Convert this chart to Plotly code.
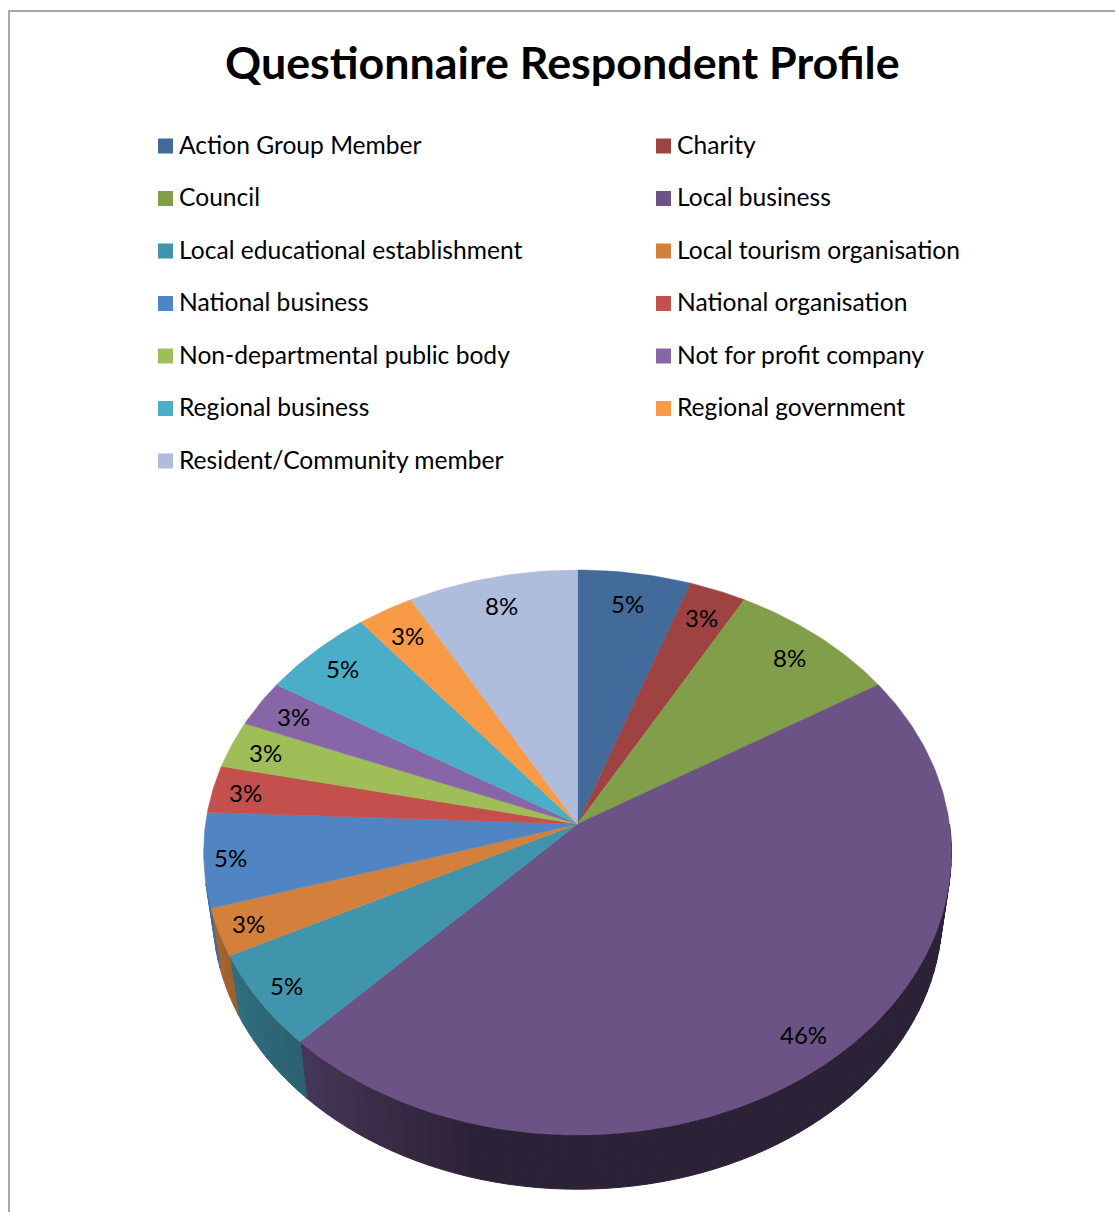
import numpy as np
import plotly.graph_objects as go

# Respondent counts per category (clockwise from twelve o'clock)
categories = [
    "Action Group Member", "Charity", "Council", "Local business",
    "Local educational establishment", "Local tourism organisation",
    "National business", "National organisation", "Non-departmental public body",
    "Not for profit company", "Regional business", "Regional government",
    "Resident/Community member",
]
counts = [2, 1, 3, 17, 2, 1, 2, 1, 1, 1, 2, 1, 3]
colors = [
    "#426A9B", "#9E4341", "#819E4A", "#6C5386", "#4094AB", "#D2803C", "#5184C2",
    "#C4504D", "#9FBE58", "#8766A8", "#4BAEC9", "#F99A47", "#AEBDDB",
]
label_radii = [0.87, 0.875, 0.875, 0.90, 0.92, 0.92, 0.93, 0.91, 0.90, 0.89, 0.89, 0.875, 0.875]

TITLE = "Questionnaire Respondent Profile"
FONT = "Lato"

# Tilted-disc projection, in page pixels
CX, CY = 577.5, 824.0
A, B, K = 372.0, 279.6, 0.1009
CY_BASE, BASE_SCALE = 886.0, 0.975


def rim(theta_deg, r=1.0, base=False):
    th = np.radians(theta_deg)
    u, v = r * np.sin(th), r * np.cos(th)
    w = 1 + K * v
    s = BASE_SCALE if base else 1.0
    return CX + s * A * u / w, (CY_BASE if base else CY) - s * B * v / w


def wall_shade(theta):
    return float(np.interp(theta, [195, 224, 255, 270], [0.41, 0.66, 0.80, 0.85]))


def darken(hex_color, f):
    r, g, b = (int(hex_color[i:i + 2], 16) for i in (1, 3, 5))
    return f"rgb({r * f:.0f},{g * f:.0f},{b * f:.0f})"


total = sum(counts)
edges = np.cumsum([0] + counts) / total * 360.0

fig = go.Figure()

# Side wall: narrow strips shaded by angle, front half of the disc only
for i, col in enumerate(colors):
    start, end = max(edges[i], 90.0), min(edges[i + 1], 258.0)
    if end <= start:
        continue
    steps = np.linspace(start, end, int(np.ceil((end - start) / 2)) + 1)
    for a0, a1 in zip(steps[:-1], steps[1:]):
        arc = np.array([a0, a1])
        xt, yt = rim(arc)
        xb, yb = rim(arc[::-1], base=True)
        shade = darken(col, wall_shade((a0 + a1) / 2))
        fig.add_trace(go.Scatter(
            x=np.r_[xt, xb, xt[0]], y=np.r_[yt, yb, yt[0]],
            mode="lines", fill="toself", fillcolor=shade,
            line=dict(color=shade, width=1), hoverinfo="skip", showlegend=False,
        ))

# Top face of each slice
for i, (name, col) in enumerate(zip(categories, colors)):
    arc = np.linspace(edges[i], edges[i + 1], max(int(counts[i] * 10), 12))
    xt, yt = rim(arc)
    fig.add_trace(go.Scatter(
        x=np.r_[CX, xt, CX], y=np.r_[CY, yt, CY],
        mode="lines", fill="toself", fillcolor=col,
        line=dict(color=col, width=0.5), name=name, hoverinfo="name", showlegend=False,
    ))

annotations = []

# Percentage labels
for i, (count, rad) in enumerate(zip(counts, label_radii)):
    lx, ly = rim((edges[i] + edges[i + 1]) / 2, rad)
    annotations.append(dict(
        x=float(lx), y=float(ly), xref="x", yref="y", showarrow=False,
        text=f"{round(100 * count / total)}%", font=dict(family=FONT, size=24, color="#000"),
    ))

# Two-column key
for i, name in enumerate(categories):
    col_x = 158 if i % 2 == 0 else 656
    row_y = 146 + (i // 2) * 52.5
    fig.add_shape(type="rect", x0=col_x, x1=col_x + 15, y0=row_y - 7.5, y1=row_y + 7.5,
                  fillcolor=colors[i], line_width=0)
    annotations.append(dict(
        x=col_x + 19, y=row_y - 2, xref="x", yref="y", xanchor="left", showarrow=False,
        text=name, font=dict(family=FONT, size=24.6, color="#000"),
    ))

annotations.append(dict(
    x=562.5, y=62, xref="x", yref="y", showarrow=False,
    text=f"<b>{TITLE}</b>", font=dict(family=FONT, size=44.8, color="#000"),
))

# Chart-area frame running off the right and bottom of the page
fig.add_shape(type="path", path="M 9 1212 L 9 11 L 1115 11",
              line=dict(color="#8C8C8C", width=1.5))

fig.update_layout(
    width=1115, height=1212, margin=dict(l=0, r=0, t=0, b=0),
    paper_bgcolor="white", plot_bgcolor="white", showlegend=False,
    xaxis=dict(range=[0, 1115], visible=False, fixedrange=True),
    yaxis=dict(range=[1212, 0], visible=False, fixedrange=True),
    annotations=annotations,
)
fig.write_html("out.html", config=dict(displayModeBar=False))
